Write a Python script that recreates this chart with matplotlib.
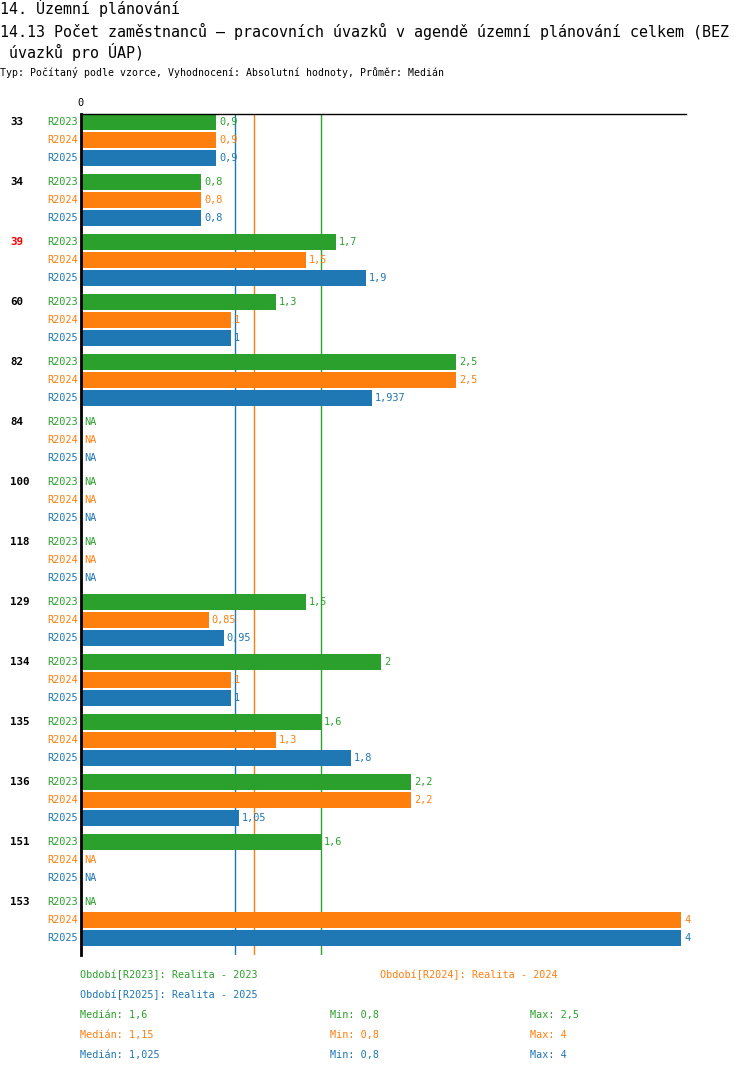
import matplotlib
matplotlib.use("Agg")
import matplotlib.pyplot as plt
import numpy as np

# ---- data ----
groups = ["33", "34", "39", "60", "82", "84", "100", "118", "129", "134", "135", "136", "151", "153"]
series = ["R2023", "R2024", "R2025"]
r2023 = [0.9, 0.8, 1.7, 1.3, 2.5, None, None, None, 1.5, 2, 1.6, 2.2, 1.6, None]
r2024 = [0.9, 0.8, 1.5, 1, 2.5, None, None, None, 0.85, 1, 1.3, 2.2, None, 4]
r2025 = [0.9, 0.8, 1.9, 1, 1.937, None, None, None, 0.95, 1, 1.8, 1.05, None, 4]
medians = [1.6, 1.15, 1.025]
mins = [0.8, 0.8, 0.8]
maxs = [2.5, 4, 4]
legend_names = ["Období[R2023]: Realita - 2023", "Období[R2024]: Realita - 2024", "Období[R2025]: Realita - 2025"]
highlight = "39"

colors = ["#2ca02c", "#ff7f0e", "#1f77b4"]
W, H = 750, 1074
MONO = ["DejaVu Sans Mono"]

def fmt(v):
    s = ("%.3f" % v).rstrip("0").rstrip(".")
    return s.replace(".", ",")

fig = plt.figure(figsize=(W / 100, H / 100), dpi=100)

def px(x, y):
    return x / W, 1 - y / H

# titles
tfs = 10.8
fig.text(*px(0, 8), "14. Územní plánování", family=MONO, fontsize=tfs, va="center", ha="left")
fig.text(*px(0, 31), "14.13 Počet zaměstnanců – pracovních úvazků v agendě územní plánování celkem (BEZ",
         family=MONO, fontsize=tfs, va="center", ha="left")
fig.text(*px(0, 52), " úvazků pro ÚAP)", family=MONO, fontsize=tfs, va="center", ha="left")
fig.text(*px(0, 73), "Typ: Počítaný podle vzorce, Vyhodnocení: Absolutní hodnoty, Průměr: Medián",
         family=MONO, fontsize=7.1, va="center", ha="left")

left_px, right_px, top_px, bot_px = 81, 686, 114, 955
ax = fig.add_axes([left_px / W, 1 - bot_px / H, (right_px - left_px) / W, (bot_px - top_px) / H])
scale = 150.0
ax.set_xlim(0, (right_px - left_px) / scale)
ax.set_ylim(bot_px - 122, top_px - 122)

data = [r2023, r2024, r2025]
for gi, g in enumerate(groups):
    for si in range(3):
        y = gi * 60 + si * 18
        v = data[si][gi]
        if v is not None:
            ax.barh(y, v, height=16, color=colors[si], linewidth=0)
            ax.text(v + 3 / scale, y, fmt(v), color=colors[si], family=MONO, fontsize=7.4,
                    va="center", ha="left")
        else:
            ax.text(3 / scale, y, "NA", color=colors[si], family=MONO, fontsize=7.4,
                    va="center", ha="left")
        ax.text(-3 / scale, y, series[si], color=colors[si], family=MONO, fontsize=7.4,
                va="center", ha="right")
    ax.text(-71 / scale, gi * 60, g, color="red" if g == highlight else "black", family=MONO,
            fontsize=7.8, fontweight="bold", va="center", ha="left")

for si, m in enumerate(medians):
    ax.axvline(m, color=colors[si], linewidth=1, zorder=0.5)

for s in ["right", "bottom"]:
    ax.spines[s].set_visible(False)
ax.spines["left"].set_linewidth(2)
ax.spines["top"].set_linewidth(1)
ax.set_xticks([])
ax.set_yticks([])
fig.text(*px(80, 103), "0", family=MONO, fontsize=7.4, va="center", ha="center")

# legend / stats
fs = 7.3
fig.text(*px(80, 975), legend_names[0], color=colors[0], family=MONO, fontsize=fs, va="center")
fig.text(*px(380, 975), legend_names[1], color=colors[1], family=MONO, fontsize=fs, va="center")
fig.text(*px(80, 995), legend_names[2], color=colors[2], family=MONO, fontsize=fs, va="center")
for si in range(3):
    y = 1015 + 20 * si
    fig.text(*px(80, y), "Medián: " + fmt(medians[si]), color=colors[si], family=MONO, fontsize=fs, va="center")
    fig.text(*px(330, y), "Min: " + fmt(mins[si]), color=colors[si], family=MONO, fontsize=fs, va="center")
    fig.text(*px(530, y), "Max: " + fmt(maxs[si]), color=colors[si], family=MONO, fontsize=fs, va="center")

fig.savefig("out.png", dpi=100)
